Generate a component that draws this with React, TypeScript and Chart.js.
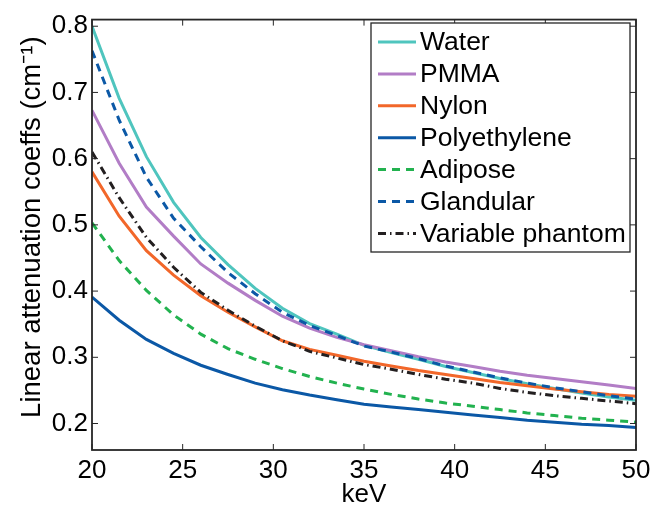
import React, { useEffect, useRef } from 'react';
import { Chart, registerables } from 'chart.js';

Chart.register(...registerables);

const FONT = "'Liberation Sans', Arial, Helvetica, sans-serif";

const energies = [20, 21.5, 23, 24.5, 26, 27.5, 29, 30.5, 32, 33.5, 35, 36.5, 38, 39.5, 41, 42.5, 44, 45.5, 47, 48.5, 50];
const water = [0.800, 0.691, 0.603, 0.534, 0.481, 0.440, 0.404, 0.374, 0.351, 0.335, 0.318, 0.307, 0.297, 0.286, 0.277, 0.268, 0.260, 0.253, 0.246, 0.240, 0.235];
const pmma = [0.673, 0.593, 0.527, 0.483, 0.441, 0.412, 0.386, 0.362, 0.344, 0.330, 0.319, 0.310, 0.301, 0.293, 0.286, 0.279, 0.273, 0.268, 0.263, 0.258, 0.253];
const nylon = [0.580, 0.513, 0.461, 0.424, 0.393, 0.368, 0.346, 0.325, 0.312, 0.303, 0.294, 0.287, 0.280, 0.274, 0.268, 0.262, 0.257, 0.252, 0.248, 0.244, 0.241];
const polyethylene = [0.391, 0.356, 0.327, 0.306, 0.288, 0.274, 0.261, 0.251, 0.243, 0.236, 0.229, 0.225, 0.221, 0.217, 0.213, 0.209, 0.205, 0.202, 0.199, 0.197, 0.194];
const adipose = [0.503, 0.446, 0.401, 0.364, 0.335, 0.313, 0.297, 0.283, 0.271, 0.261, 0.252, 0.244, 0.237, 0.231, 0.226, 0.221, 0.216, 0.212, 0.208, 0.205, 0.202];
const glandular = [0.763, 0.658, 0.572, 0.510, 0.467, 0.428, 0.396, 0.368, 0.348, 0.333, 0.317, 0.308, 0.298, 0.287, 0.278, 0.269, 0.261, 0.254, 0.248, 0.242, 0.237];
const phantom = [0.610, 0.541, 0.481, 0.436, 0.398, 0.371, 0.347, 0.325, 0.309, 0.299, 0.289, 0.282, 0.274, 0.267, 0.261, 0.253, 0.247, 0.242, 0.238, 0.234, 0.230];

const seriesNames = ['Water', 'PMMA', 'Nylon', 'Polyethylene', 'Adipose', 'Glandular', 'Variable phantom'];
const seriesValues = [water, pmma, nylon, polyethylene, adipose, glandular, phantom];
const seriesColors = ['#4fc5be', '#b27dc6', '#f2672a', '#0b58a6', '#22b24f', '#0b58a6', '#231f20'];
const seriesDashes: number[][] = [[], [], [], [], [8, 6], [8, 6], [8, 4, 1.5, 4]];

const xTicks = [20, 25, 30, 35, 40, 45, 50];
const yTicks = [0.2, 0.3, 0.4, 0.5, 0.6, 0.7, 0.8];
const xTitle = 'keV';
const yTitle = '  Linear attenuation coeffs (cm\u207B\u00B9)';

const framePlugin = {
  id: 'matlabFrame',
  afterDraw(chart: any) {
    const { ctx, chartArea } = chart;
    const { left, right, top, bottom } = chartArea;
    const xs = chart.scales.x;
    const ys = chart.scales.y;
    ctx.save();
    ctx.strokeStyle = '#262626';
    ctx.lineWidth = 1.8;
    ctx.setLineDash([]);
    ctx.strokeRect(left, top, right - left, bottom - top);
    const tl = 6;
    ctx.beginPath();
    xTicks.forEach((v) => {
      const px = xs.getPixelForValue(v);
      ctx.moveTo(px, bottom);
      ctx.lineTo(px, bottom - tl);
      ctx.moveTo(px, top);
      ctx.lineTo(px, top + tl);
    });
    yTicks.forEach((v) => {
      const py = ys.getPixelForValue(v);
      ctx.moveTo(left, py);
      ctx.lineTo(left + tl, py);
      ctx.moveTo(right, py);
      ctx.lineTo(right - tl, py);
    });
    ctx.lineWidth = 1;
    ctx.stroke();

    // legend
    const bx = 371, by = 23, bw = 259, bh = 229;
    ctx.fillStyle = '#ffffff';
    ctx.fillRect(bx, by, bw, bh);
    ctx.strokeStyle = '#262626';
    ctx.lineWidth = 1.3;
    ctx.strokeRect(bx, by, bw, bh);
    const datasets = chart.data.datasets;
    ctx.font = `26.5px ${FONT}`;
    ctx.textBaseline = 'middle';
    ctx.textAlign = 'left';
    datasets.forEach((ds: any, i: number) => {
      const y = 42 + i * 31.9;
      ctx.beginPath();
      ctx.strokeStyle = ds.borderColor;
      ctx.lineWidth = ds.borderWidth;
      ctx.setLineDash(ds.borderDash || []);
      ctx.moveTo(378, y);
      ctx.lineTo(416, y);
      ctx.stroke();
      ctx.setLineDash([]);
      ctx.fillStyle = '#000000';
      ctx.fillText(ds.label, 420, y + 1);
    });
    ctx.restore();
  },
};

export default function App() {
  const canvasRef = useRef<HTMLCanvasElement | null>(null);

  useEffect(() => {
    const canvas = canvasRef.current;
    if (!canvas) return;
    const datasets = seriesNames.map((name, i) => ({
      label: name,
      data: energies.map((e, j) => ({ x: e, y: seriesValues[i][j] })),
      borderColor: seriesColors[i],
      backgroundColor: seriesColors[i],
      borderWidth: 3,
      borderDash: seriesDashes[i],
      pointRadius: 0,
      tension: 0,
      fill: false,
      order: seriesNames.length - i,
    }));

    const chart = new Chart(canvas, {
      type: 'line',
      data: { datasets },
      plugins: [framePlugin],
      options: {
        animation: false,
        responsive: false,
        maintainAspectRatio: false,
        layout: { padding: { left: 0, right: 28, top: 16, bottom: 0 } },
        plugins: {
          legend: { display: false },
          tooltip: { enabled: false },
        },
        scales: {
          x: {
            type: 'linear',
            min: 20,
            max: 50,
            afterBuildTicks: (scale: any) => {
              scale.ticks = xTicks.map((v) => ({ value: v }));
            },
            afterFit: (scale: any) => {
              scale.height = 56;
            },
            grid: { display: false, drawTicks: false },
            border: { display: false },
            ticks: {
              color: '#000',
              padding: 5,
              maxRotation: 0,
              autoSkip: false,
              font: { family: FONT, size: 26 },
              callback: (v: any) => String(v),
            },
            title: {
              display: true,
              text: xTitle,
              color: '#000',
              font: { family: FONT, size: 26, lineHeight: 1 },
              padding: { top: 0, bottom: -2 },
            },
          },
          y: {
            type: 'linear',
            min: 0.16,
            max: 0.81,
            afterBuildTicks: (scale: any) => {
              scale.ticks = yTicks.map((v) => ({ value: v }));
            },
            afterFit: (scale: any) => {
              scale.width = 92;
            },
            grid: { display: false, drawTicks: false },
            border: { display: false },
            ticks: {
              color: '#000',
              padding: 4,
              autoSkip: false,
              font: { family: FONT, size: 26 },
              callback: (v: any) => Number(v).toFixed(1),
            },
            title: {
              display: true,
              text: yTitle,
              color: '#000',
              font: { family: FONT, size: 27.5, lineHeight: 1 },
              padding: { top: 19, bottom: 0 },
            },
          },
        },
      },
    } as any);

    return () => {
      chart.destroy();
    };
  }, []);

  return (
    <div style={{ position: 'absolute', left: 0, top: 0, width: 664, height: 506, background: '#fff' }}>
      <canvas ref={canvasRef} width={664} height={506} style={{ display: 'block' }} />
    </div>
  );
}
